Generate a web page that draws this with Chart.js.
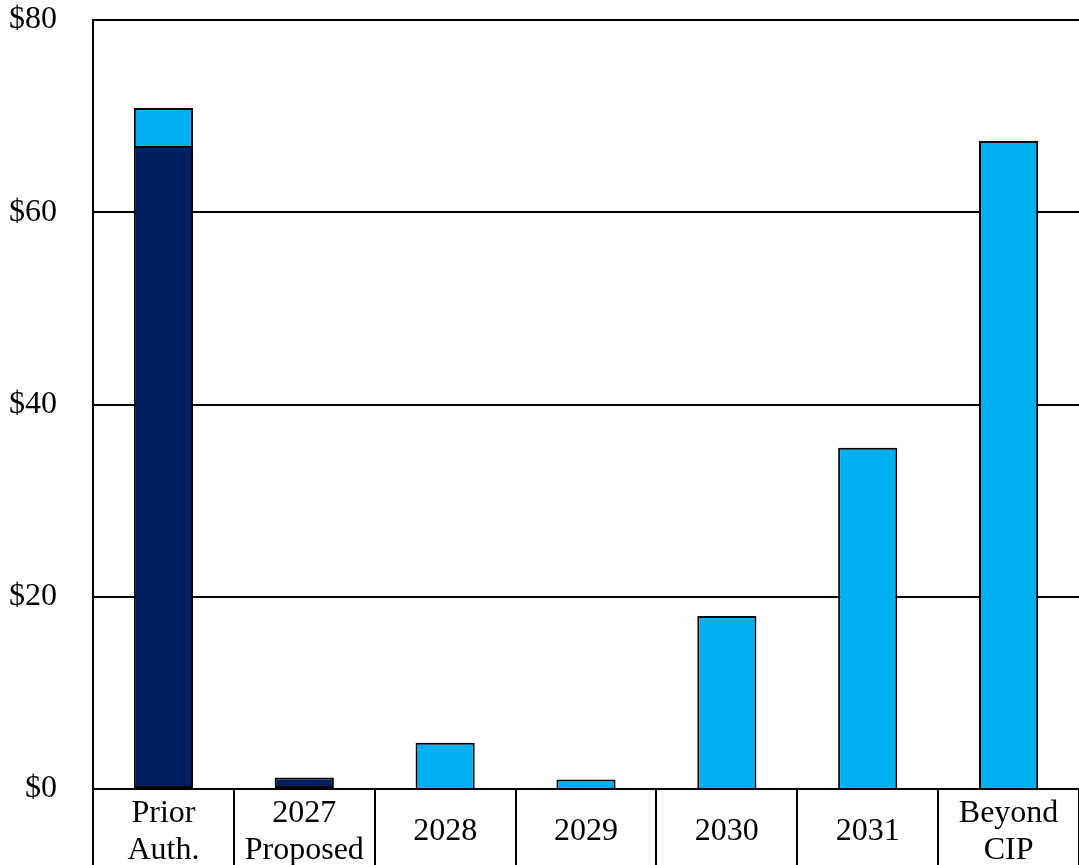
<!DOCTYPE html>
<html>
<head>
<meta charset="utf-8">
<script src="https://cdn.jsdelivr.net/npm/chart.js@4/dist/chart.umd.min.js"></script>
<style>
  html, body { margin: 0; padding: 0; background: #ffffff; }
  #wrap { width: 1079px; height: 865px; }
</style>
</head>
<body>
<div id="wrap"><canvas id="c" width="1079" height="865"></canvas></div>
<script>
const categories = [["Prior", "Auth."], ["2027", "Proposed"], "2028", "2029", "2030", "2031", ["Beyond", "CIP"]];
const authorizedValues = [66.9, 1.2, null, null, null, null, null];
const plannedValues = [3.95, null, 4.8, 1.0, 18.0, 35.5, 67.4];
const yTicks = [0, 20, 40, 60, 80];

const FONT = "'Liberation Serif', 'Times New Roman', serif";

new Chart(document.getElementById('c'), {
  type: 'bar',
  data: {
    labels: categories,
    datasets: [
      {
        label: 'Authorized',
        data: authorizedValues,
        backgroundColor: '#002060',
        borderColor: '#000000',
        borderWidth: 2,
        borderSkipped: false,
        barPercentage: 0.42,
        categoryPercentage: 1.0
      },
      {
        label: 'Planned',
        data: plannedValues,
        backgroundColor: '#00B0F0',
        borderColor: '#000000',
        borderWidth: 2,
        borderSkipped: 'bottom',
        barPercentage: 0.42,
        categoryPercentage: 1.0
      }
    ]
  },
  options: {
    responsive: false,
    animation: false,
    devicePixelRatio: 1,
    layout: { padding: { top: 20, right: 0, left: 0, bottom: 0 } },
    plugins: { legend: { display: false }, tooltip: { enabled: false } },
    scales: {
      x: {
        stacked: true,
        afterFit: s => { s.height = 76; s.paddingLeft = 0; s.paddingRight = 0; },
        border: { display: true, color: '#000000', width: 2 },
        grid: {
          offset: true,
          drawOnChartArea: false,
          drawTicks: true,
          tickLength: 76,
          color: '#000000',
          lineWidth: 2
        },
        ticks: {
          font: { family: FONT, size: 32, lineHeight: 1.13 },
          color: '#000000',
          maxRotation: 0,
          autoSkip: false,
          crossAlign: 'center',
          padding: -51
        }
      },
      y: {
        stacked: true,
        min: 0,
        max: 80,
        afterFit: s => { s.width = 93; s.paddingTop = 0; s.paddingBottom = 0; },
        afterBuildTicks: s => { s.ticks = yTicks.map(v => ({ value: v })); },
        border: { display: true, color: '#000000', width: 2 },
        grid: { color: '#000000', lineWidth: 2, drawTicks: false },
        ticks: {
          font: { family: FONT, size: 32 },
          color: '#000000',
          padding: 36,
          callback: v => '$' + v
        }
      }
    }
  }
});
</script>
</body>
</html>
